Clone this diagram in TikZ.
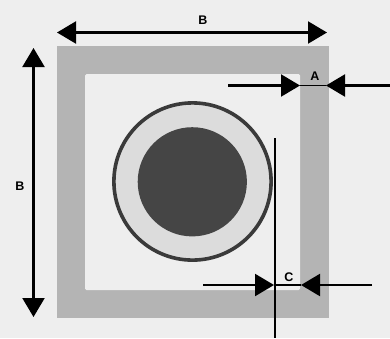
\documentclass[tikz,border=0pt]{standalone}
\usepackage{fontspec}
\setmainfont{Liberation Sans}
\usetikzlibrary{arrows.meta}
\definecolor{bgc}{HTML}{EEEEEE}
\definecolor{framec}{HTML}{B4B4B4}
\definecolor{ringc}{HTML}{DCDCDC}
\definecolor{corec}{HTML}{454545}
\definecolor{ringline}{HTML}{3A3A3A}
\tikzset{
  dimline/.style={line width=2.2pt,black},
  tipped/.style={dimline,{Triangle[length=19pt,width=22pt]}-{Triangle[length=19pt,width=22pt]}},
  tipend/.style={dimline,-{Triangle[length=19pt,width=22pt]}},
  lab/.style={font=\fontsize{12.5}{12.5}\selectfont\bfseries,inner sep=0pt,text=black}
}
\begin{document}
\begin{tikzpicture}[x=1pt,y=-1pt]
\useasboundingbox (0,0) rectangle (390,338);
\fill[bgc] (0,0) rectangle (390,338);
\fill[framec] (57,46) rectangle (329,318);
\fill[bgc,rounded corners=1.5pt] (85,74) rectangle (300,290);
\fill[ringc,draw=ringline,line width=3.6pt] (192.5,181.5) circle (78.6);
\fill[corec] (192.3,181.8) circle (54.6);
% B horizontal
\coordinate (bhl) at (57,32.5);
\coordinate (bhr) at (327,32.5);
\draw[tipped] (bhl) -- (bhr);
\node[lab] (bh) at (203,20) {B};
% B vertical
\coordinate (bvt) at (33.5,48);
\coordinate (bvb) at (33.5,317);
\draw[tipped] (bvt) -- (bvb);
\node[lab] (bv) at (20,186) {B};
% A
\coordinate (al) at (228,85.5);
\coordinate (at1) at (300,85.5);
\coordinate (ar) at (392,85.5);
\coordinate (at2) at (326,85.5);
\draw[tipend] (al) -- (at1);
\draw[tipend] (ar) -- (at2);
\draw[line width=1.3pt] (at1) -- (at2);
\node[lab] (a) at (315,76) {A};
% C
\coordinate (cl) at (203,285);
\coordinate (ct1) at (274,285);
\coordinate (cr) at (372,285);
\coordinate (ct2) at (301,285);
\draw[tipend] (cl) -- (ct1);
\draw[tipend] (cr) -- (ct2);
\draw[line width=1.3pt] (ct1) -- (ct2);
\coordinate (vt) at (274.5,138);
\coordinate (vb) at (274.5,338);
\draw[line width=2pt] (vt) -- (vb);
\node[lab] (c) at (289,277) {C};
\end{tikzpicture}
\end{document}
